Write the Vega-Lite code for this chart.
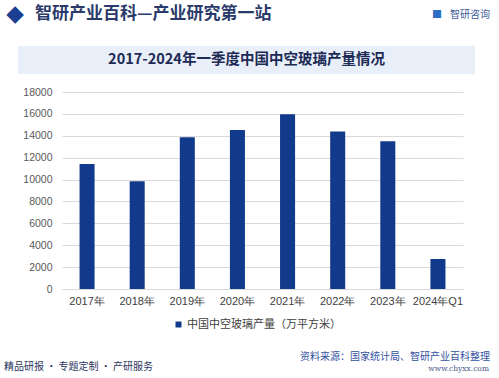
{
  "$schema": "https://vega.github.io/schema/vega-lite/v6.json",
  "padding": 0,
  "spacing": 13,
  "background": "#ffffff",
  "config": {
    "view": {"stroke": null},
    "font": "Noto Sans CJK SC"
  },
  "vconcat": [
    {
      "width": 437,
      "height": 32,
      "data": {"values": [{"head": "智研产业百科—产业研究第一站", "logo": "智研咨询", "mark": "◆", "icon": "■"}]},
      "layer": [
        {"mark": {"type": "text", "x": -47, "y": 13, "fontSize": 23, "font": "DejaVu Sans", "color": "#1c3f94", "align": "center", "baseline": "middle"}, "encoding": {"text": {"field": "mark"}}},
        {"mark": {"type": "text", "x": -27, "y": 13, "fontSize": 17, "fontWeight": "bold", "color": "#2a3b6b", "align": "left", "baseline": "middle"}, "encoding": {"text": {"field": "head"}}},
        {"mark": {"type": "text", "x": 375, "y": 14, "fontSize": 10, "color": "#2c6cc4", "align": "center", "baseline": "middle"}, "encoding": {"text": {"field": "icon"}}},
        {"mark": {"type": "text", "x": 428, "y": 14, "fontSize": 10, "color": "#3a5a9a", "align": "right", "baseline": "middle"}, "encoding": {"text": {"field": "logo"}}},
        {"mark": {"type": "rule", "x": -58, "x2": 430, "y": 29, "y2": 29, "color": "#56628a", "strokeWidth": 1.5}, "encoding": {}}
      ]
    },
    {
      "width": 413,
      "height": 28,
      "data": {"values": [{"label": "2017-2024年一季度中国中空玻璃产量情况"}]},
      "layer": [
        {"mark": {"type": "rect", "x": -44, "x2": 413, "y": 0, "y2": 28, "color": "#e9eff8"}, "encoding": {}},
        {"mark": {"type": "text", "x": 184.5, "y": 14, "fontSize": 14.5, "fontWeight": "bold", "color": "#1c2a55", "align": "center", "baseline": "middle"}, "encoding": {"text": {"field": "label"}}}
      ]
    },
    {
      "width": 401,
      "height": 197,
      "data": {"values": [
        {"year": "2017年", "value": 11420, "series": "中国中空玻璃产量（万平方米）"},
        {"year": "2018年", "value": 9840, "series": "中国中空玻璃产量（万平方米）"},
        {"year": "2019年", "value": 13860, "series": "中国中空玻璃产量（万平方米）"},
        {"year": "2020年", "value": 14530, "series": "中国中空玻璃产量（万平方米）"},
        {"year": "2021年", "value": 15960, "series": "中国中空玻璃产量（万平方米）"},
        {"year": "2022年", "value": 14380, "series": "中国中空玻璃产量（万平方米）"},
        {"year": "2023年", "value": 13490, "series": "中国中空玻璃产量（万平方米）"},
        {"year": "2024年Q1", "value": 2740, "series": "中国中空玻璃产量（万平方米）"}
      ]},
      "mark": {"type": "bar"},
      "encoding": {
        "x": {"field": "year", "type": "nominal", "sort": null,
          "scale": {"paddingInner": 0.7, "paddingOuter": 0.35},
          "axis": {"title": null, "labelAngle": 0, "ticks": false, "domainColor": "#d9d9d9", "labelFontSize": 11, "labelColor": "#404040", "labelPadding": 6, "labelFont": "Liberation Sans"}},
        "y": {"field": "value", "type": "quantitative",
          "scale": {"domain": [0, 18000], "nice": false},
          "axis": {"title": null, "values": [0, 2000, 4000, 6000, 8000, 10000, 12000, 14000, 16000, 18000], "format": "d", "domain": false, "ticks": false, "gridColor": "#d9d9d9", "labelFontSize": 10.5, "labelColor": "#595959", "labelPadding": 10, "minExtent": 62, "labelFont": "Liberation Sans"}},
        "color": {"field": "series", "type": "nominal",
          "scale": {"range": ["#123a8c"]},
          "legend": {"title": null, "orient": "none", "legendX": 111, "legendY": 318, "direction": "horizontal", "symbolType": "square", "symbolSize": 36, "labelFontSize": 11, "labelColor": "#404040", "labelOffset": 3}}
      }
    },
    {
      "width": 437,
      "height": 58,
      "data": {"values": [{"left": "精品研报 · 专题定制 · 产研服务", "src": "资料来源：国家统计局、智研产业百科整理", "url": "www.chyxx.com"}]},
      "layer": [
        {"mark": {"type": "rule", "x": -58, "x2": 215, "y": 33, "y2": 33, "color": "#3a4a7a", "strokeWidth": 1.2}, "encoding": {}},
        {"mark": {"type": "text", "x": -58, "y": 47, "fontSize": 10, "color": "#2a3560", "align": "left", "baseline": "middle"}, "encoding": {"text": {"field": "left"}}},
        {"mark": {"type": "text", "x": 428, "y": 37, "fontSize": 10, "color": "#2f4f9f", "align": "right", "baseline": "middle"}, "encoding": {"text": {"field": "src"}}},
        {"mark": {"type": "text", "x": 427, "y": 49, "fontSize": 7.5, "font": "DejaVu Serif", "color": "#4a5a8a", "align": "right", "baseline": "middle"}, "encoding": {"text": {"field": "url"}}}
      ]
    }
  ]
}
